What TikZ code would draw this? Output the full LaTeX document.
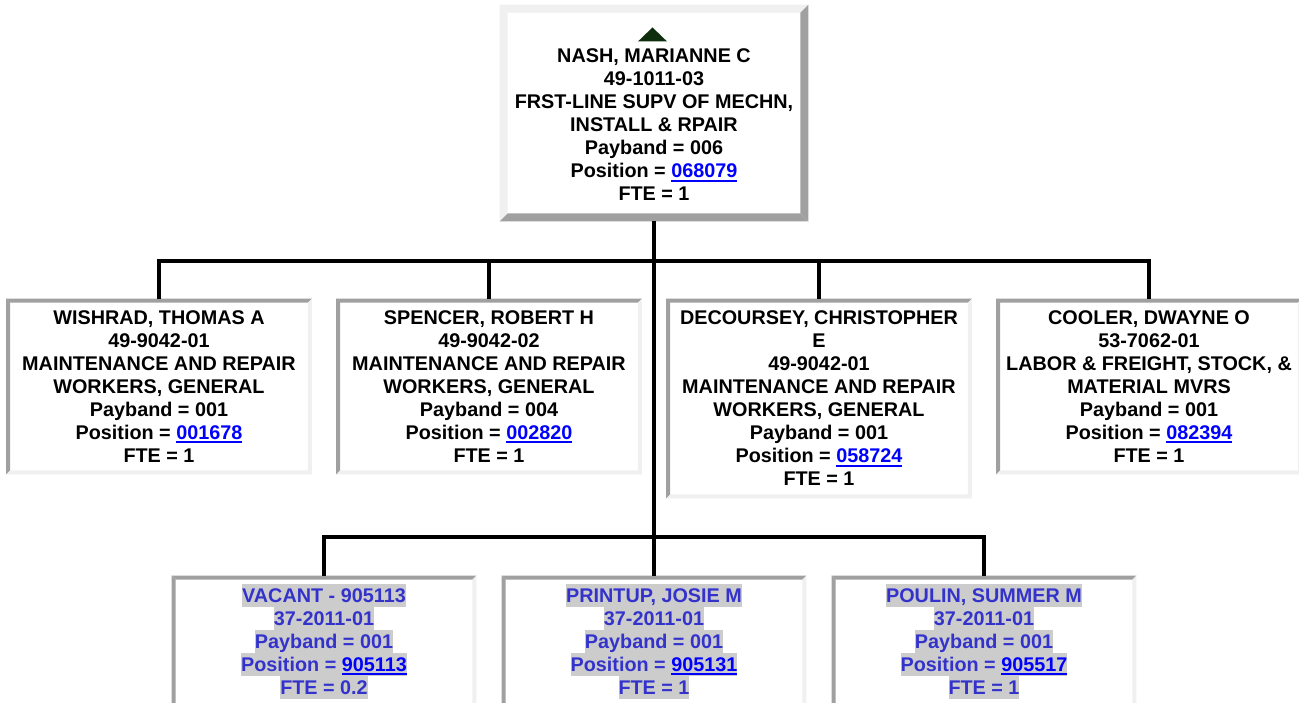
\documentclass[tikz,border=0pt]{standalone}
\usepackage{fontspec}
\setmainfont{Liberation Sans}
\usetikzlibrary{calc}
\definecolor{bdark}{RGB}{160,160,160}
\definecolor{blight}{RGB}{240,240,240}
\definecolor{linkblue}{RGB}{0,0,255}
\definecolor{vacblue}{RGB}{51,51,204}
\definecolor{hlgray}{RGB}{204,204,204}
\definecolor{tricol}{RGB}{14,46,14}
\newcommand\ls{\rule[-3.45pt]{0pt}{17.25pt}}
\newcommand\lnk[1]{{\color{linkblue}\setbox0\hbox{#1}\rlap{\rule[-3pt]{\wd0}{1.5pt}}\box0}}
\newcommand\hl[1]{{\setlength\fboxsep{0pt}\colorbox{hlgray}{\ls#1}}}
% bevelled border: node, top/left colour, bottom/right colour, width (px)
\newcommand\bevel[4]{%
  \fill[#2] (#1.north west) -- (#1.north east) -- ($(#1.north east)+(-#4,#4)$) -- ($(#1.north west)+(#4,#4)$) -- cycle;
  \fill[#2] (#1.north west) -- ($(#1.north west)+(#4,#4)$) -- ($(#1.south west)+(#4,-#4)$) -- (#1.south west) -- cycle;
  \fill[#3] (#1.north east) -- (#1.south east) -- ($(#1.south east)+(-#4,-#4)$) -- ($(#1.north east)+(-#4,#4)$) -- cycle;
  \fill[#3] (#1.south west) -- (#1.south east) -- ($(#1.south east)+(-#4,-#4)$) -- ($(#1.south west)+(#4,-#4)$) -- cycle;
}
\tikzset{
  card/.style={inner sep=0pt, fill=white, align=center,
    font=\bfseries\fontsize{14.85}{17.25}\selectfont},
  topcard/.style={card, minimum width=231pt, minimum height=162pt},
  midcard/.style={card, minimum width=228.75pt, minimum height=131.25pt},
  lowcard/.style={card, minimum width=228pt, minimum height=98.25pt, text=vacblue},
  conn/.style={line width=3pt, black, line join=miter}
}
\begin{document}
\begin{tikzpicture}[x=0.75pt,y=-0.75pt]
\useasboundingbox (0,0) rectangle (1299,703);
\clip (0,0) rectangle (1299,703);
\fill[white] (0,0) rectangle (1299,703);

% top box
\node[topcard] (top) at (654,113) {\rule[-3.45pt]{0pt}{17.7pt}\\
  \ls NASH, MARIANNE C\\ \ls 49-1011-03\\ \ls FRST-LINE SUPV OF MECHN,\\
  \ls INSTALL \& RPAIR\\ \ls Payband = 006\\ \ls Position = \lnk{068079}\\ \ls FTE = 1};
\bevel{top}{blight}{bdark}{8}
\fill[tricol] ($(top.north)+(-16,36.7)$) -- ($(top.north)+(-1.5,22.7)$) -- ($(top.north)+(13,36.7)$) -- cycle;

% second level
\node[midcard] (c1) at (159,386.5) {\ls WISHRAD, THOMAS A\\ \ls 49-9042-01\\
  \ls MAINTENANCE AND REPAIR\\ \ls WORKERS, GENERAL\\ \ls Payband = 001\\
  \ls Position = \lnk{001678}\\ \ls FTE = 1};
\node[midcard] (c2) at (489,386.5) {\ls SPENCER, ROBERT H\\ \ls 49-9042-02\\
  \ls MAINTENANCE AND REPAIR\\ \ls WORKERS, GENERAL\\ \ls Payband = 004\\
  \ls Position = \lnk{002820}\\ \ls FTE = 1};
\node[midcard, minimum height=149.25pt] (c3) at (819,398.5) {\ls DECOURSEY, CHRISTOPHER\\ \ls E\\
  \ls 49-9042-01\\ \ls MAINTENANCE AND REPAIR\\ \ls WORKERS, GENERAL\\ \ls Payband = 001\\
  \ls Position = \lnk{058724}\\ \ls FTE = 1};
\node[midcard] (c4) at (1149,386.5) {\ls COOLER, DWAYNE O\\ \ls 53-7062-01\\
  \ls LABOR \& FREIGHT, STOCK, \&\\ \ls MATERIAL MVRS\\ \ls Payband = 001\\
  \ls Position = \lnk{082394}\\ \ls FTE = 1};
\foreach \n in {c1,c2,c3,c4} {\bevel{\n}{bdark}{blight}{4}}

% third level
\node[lowcard] (g1) at (324,641.5) {\hl{VACANT - 905113}\\ \hl{37-2011-01}\\
  \hl{Payband = 001}\\ \hl{Position = \lnk{905113}}\\ \hl{FTE = 0.2}};
\node[lowcard] (g2) at (654,641.5) {\hl{PRINTUP, JOSIE M}\\ \hl{37-2011-01}\\
  \hl{Payband = 001}\\ \hl{Position = \lnk{905131}}\\ \hl{FTE = 1}};
\node[lowcard] (g3) at (984,641.5) {\hl{POULIN, SUMMER M}\\ \hl{37-2011-01}\\
  \hl{Payband = 001}\\ \hl{Position = \lnk{905517}}\\ \hl{FTE = 1}};
\foreach \n in {g1,g2,g3} {\bevel{\n}{bdark}{blight}{4}}

% connectors
\coordinate (bus1) at (654,261);
\coordinate (bus2) at (654,537);
\draw[conn] (top.south) -- (bus2);
\draw[conn] (c1.north) |- (bus1) -| (c4.north);
\draw[conn] (c2.north) -- (c2.north |- bus1);
\draw[conn] (c3.north) -- (c3.north |- bus1);
\draw[conn] (g1.north) |- (bus2) -| (g3.north);
\draw[conn] (g2.north) -- (bus2);
\end{tikzpicture}
\end{document}
